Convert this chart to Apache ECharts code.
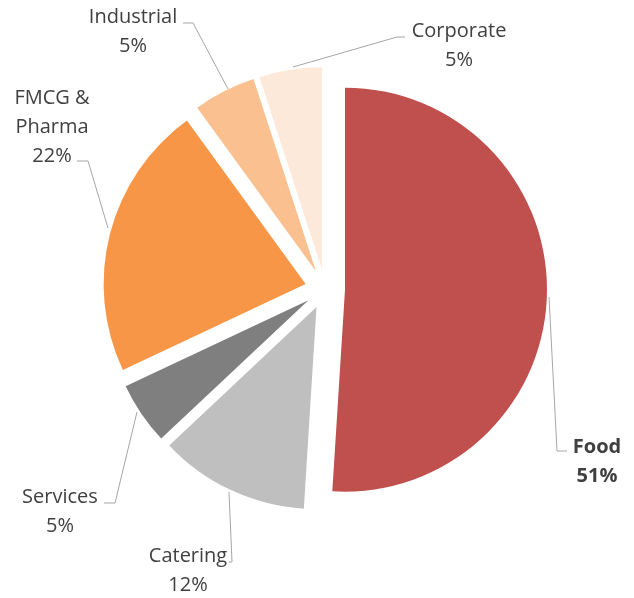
<!DOCTYPE html>
<html>
<head>
<meta charset="utf-8">
<script src="https://cdn.jsdelivr.net/npm/echarts@6/dist/echarts.min.js"></script>
<style>
    html, body { margin: 0; padding: 0; background: #fff; }
    #chart { width: 634px; height: 598px; }
</style>
</head>
<body>
<div id="chart"></div>
<script>
// sectors, clockwise from 12 o'clock
let categories = ["Food", "Catering", "Services", "FMCG &\nPharma", "Industrial", "Corporate"];
let shares = [51, 12, 5, 22, 5, 5];

let colors = ["#C0504D", "#BFBFBF", "#7F7F7F", "#F79646", "#FAC090", "#FDE9D9"];
// label placement (centre of text block) and leader lines, Excel style
let labelPos = [
    [597, 462],
    [188, 571],
    [60, 512],
    [52, 127],
    [133, 32],
    [459, 46],
];
let leaderPts = [
    [[549, 297], [557, 451], [567, 451]],
    [[229, 492], [232, 562], [229, 562]],
    [[137, 412], [115, 503], [104, 503]],
    [[108, 228], [88, 161], [77, 161]],
    [[228, 89], [193, 23], [183, 23]],
    [[293, 67], [397, 37], [405, 37]],
];

let pieData = categories.map((name, i) => ({
    name: name,
    value: shares[i],
}));

let chart = echarts.init(document.getElementById("chart"));

chart.setOption({
    animation: false,
    series: [
        // exploded pie
        {
            type: "pie",
            center: [325, 289],
            radius: 202,
            startAngle: 90,
            clockwise: true,
            selectedMode: "multiple",
            selectedOffset: 20,
            select: { itemStyle: { borderWidth: 0 } },
            emphasis: { disabled: true },
            silent: true,
            label: { show: false },
            labelLine: { show: false },
            data: pieData.map((d, i) => ({
                ...d,
                selected: true,
                itemStyle: { color: colors[i] },
            })),
        },
        // invisible copy carrying the labels
        {
            type: "pie",
            center: [325, 289],
            radius: 202,
            startAngle: 90,
            clockwise: true,
            silent: true,
            avoidLabelOverlap: false,
            emphasis: { disabled: true },
            itemStyle: { color: "rgba(0,0,0,0)" },
            label: {
                show: true,
                position: "outside",
                formatter: p => p.name + "\n" + p.value + "%",
                fontFamily: "Open Sans",
                fontSize: 20,
                lineHeight: 29,
                color: "#404040",
            },
            labelLine: {
                show: true,
                lineStyle: { color: "#A6A6A6", width: 1 },
            },
            labelLayout: params => {
                let i = params.dataIndex;
                return {
                    x: labelPos[i][0],
                    y: labelPos[i][1],
                    align: "center",
                    verticalAlign: "middle",
                    labelLinePoints: leaderPts[i],
                };
            },
            data: pieData.map((d, i) => ({
                ...d,
                label: i === 0 ? { fontWeight: "bold" } : {},
            })),
        },
    ],
});
</script>
</body>
</html>
